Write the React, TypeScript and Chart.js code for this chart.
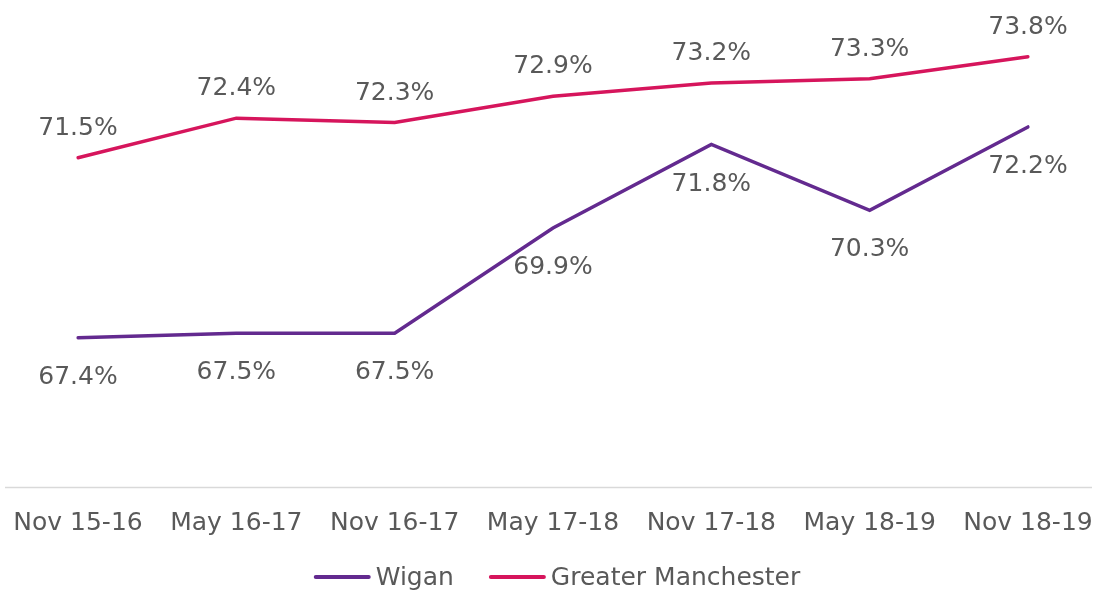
import React, { useEffect, useRef } from "react";
import { Chart, registerables } from "chart.js";

Chart.register(...registerables);

const categories = ["Nov 15-16", "May 16-17", "Nov 16-17", "May 17-18", "Nov 17-18", "May 18-19", "Nov 18-19"];
const wigan = [67.4, 67.5, 67.5, 69.9, 71.8, 70.3, 72.2];
const greaterManchester = [71.5, 72.4, 72.3, 72.9, 73.2, 73.3, 73.8];
const seriesNames = ["Wigan", "Greater Manchester"];

const FONT = "'DejaVu Sans', Verdana, sans-serif";
const FSIZE = 25;
const TEXT = "#595959";
const WIGAN_COLOR = "#632a8f";
const GM_COLOR = "#d6155c";

export default function App() {
  const ref = useRef<HTMLCanvasElement | null>(null);

  useEffect(() => {
    document.body.style.margin = "0";
    const canvas = ref.current;
    if (!canvas) return;

    const extras = {
      id: "extras",
      afterDatasetsDraw(chart: any) {
        const ctx = chart.ctx;
        ctx.save();
        ctx.font = `${FSIZE}px ${FONT}`;
        ctx.fillStyle = TEXT;
        ctx.textAlign = "center";
        ctx.textBaseline = "alphabetic";
        chart.data.datasets.forEach((ds: any, i: number) => {
          const meta = chart.getDatasetMeta(i);
          meta.data.forEach((pt: any, j: number) => {
            const label = ds.data[j].toFixed(1) + "%";
            const y = i === 0 ? pt.y + 46 : pt.y - 23;
            ctx.fillText(label, pt.x, y);
          });
        });
        // axis line
        ctx.strokeStyle = "#d9d9d9";
        ctx.lineWidth = 1.5;
        ctx.beginPath();
        const yb = Math.round(chart.chartArea.bottom) + 0.5;
        ctx.moveTo(5, yb);
        ctx.lineTo(1092, yb);
        ctx.stroke();
        // legend
        const lineLen = 57;
        const gapText = 5;
        const gapItems = 35;
        const widths = seriesNames.map((n) => ctx.measureText(n).width);
        const total = widths.reduce((a, w) => a + lineLen + gapText + w, 0) + gapItems;
        let x = 557 - total / 2;
        const ly = 577;
        ctx.textAlign = "left";
        ctx.textBaseline = "middle";
        chart.data.datasets.forEach((ds: any, i: number) => {
          ctx.strokeStyle = ds.borderColor;
          ctx.lineWidth = 4;
          ctx.lineCap = "round";
          ctx.beginPath();
          ctx.moveTo(x + 2, ly);
          ctx.lineTo(x + lineLen - 2, ly);
          ctx.stroke();
          x += lineLen + gapText;
          ctx.fillStyle = TEXT;
          ctx.fillText(seriesNames[i], x, ly + 1);
          x += widths[i] + gapItems;
        });
        ctx.restore();
      },
    };

    const chart = new Chart(canvas, {
      type: "line",
      data: {
        labels: categories,
        datasets: [
          {
            label: seriesNames[0],
            data: wigan,
            borderColor: WIGAN_COLOR,
            backgroundColor: WIGAN_COLOR,
            borderWidth: 3.5,
            pointRadius: 0,
            tension: 0,
            borderCapStyle: "round",
          },
          {
            label: seriesNames[1],
            data: greaterManchester,
            borderColor: GM_COLOR,
            backgroundColor: GM_COLOR,
            borderWidth: 3.5,
            pointRadius: 0,
            tension: 0,
            borderCapStyle: "round",
          },
        ],
      },
      options: {
        animation: false,
        responsive: true,
        maintainAspectRatio: false,
        layout: { padding: { left: 78, right: 1097 - 1028, top: 4, bottom: 0 } },
        plugins: {
          legend: { display: false },
          tooltip: { enabled: false },
        },
        scales: {
          x: {
            offset: false,
            grid: { display: false, drawTicks: false },
            border: { display: false },
            afterFit: (scale: any) => {
              scale.height = 590 - 487;
              scale.paddingLeft = 0;
              scale.paddingRight = 0;
            },
            ticks: {
              color: TEXT,
              font: { family: FONT, size: FSIZE },
              padding: 21,
              maxRotation: 0,
              autoSkip: false,
            },
          },
          y: {
            display: false,
            min: 64,
            max: 75,
          },
        },
      },
      plugins: [extras],
    });
    return () => chart.destroy();
  }, []);

  return (
    <div style={{ position: "absolute", left: 0, top: 0, width: 1097, height: 590, overflow: "hidden", background: "#fff" }}>
      <canvas ref={ref} />
    </div>
  );
}
